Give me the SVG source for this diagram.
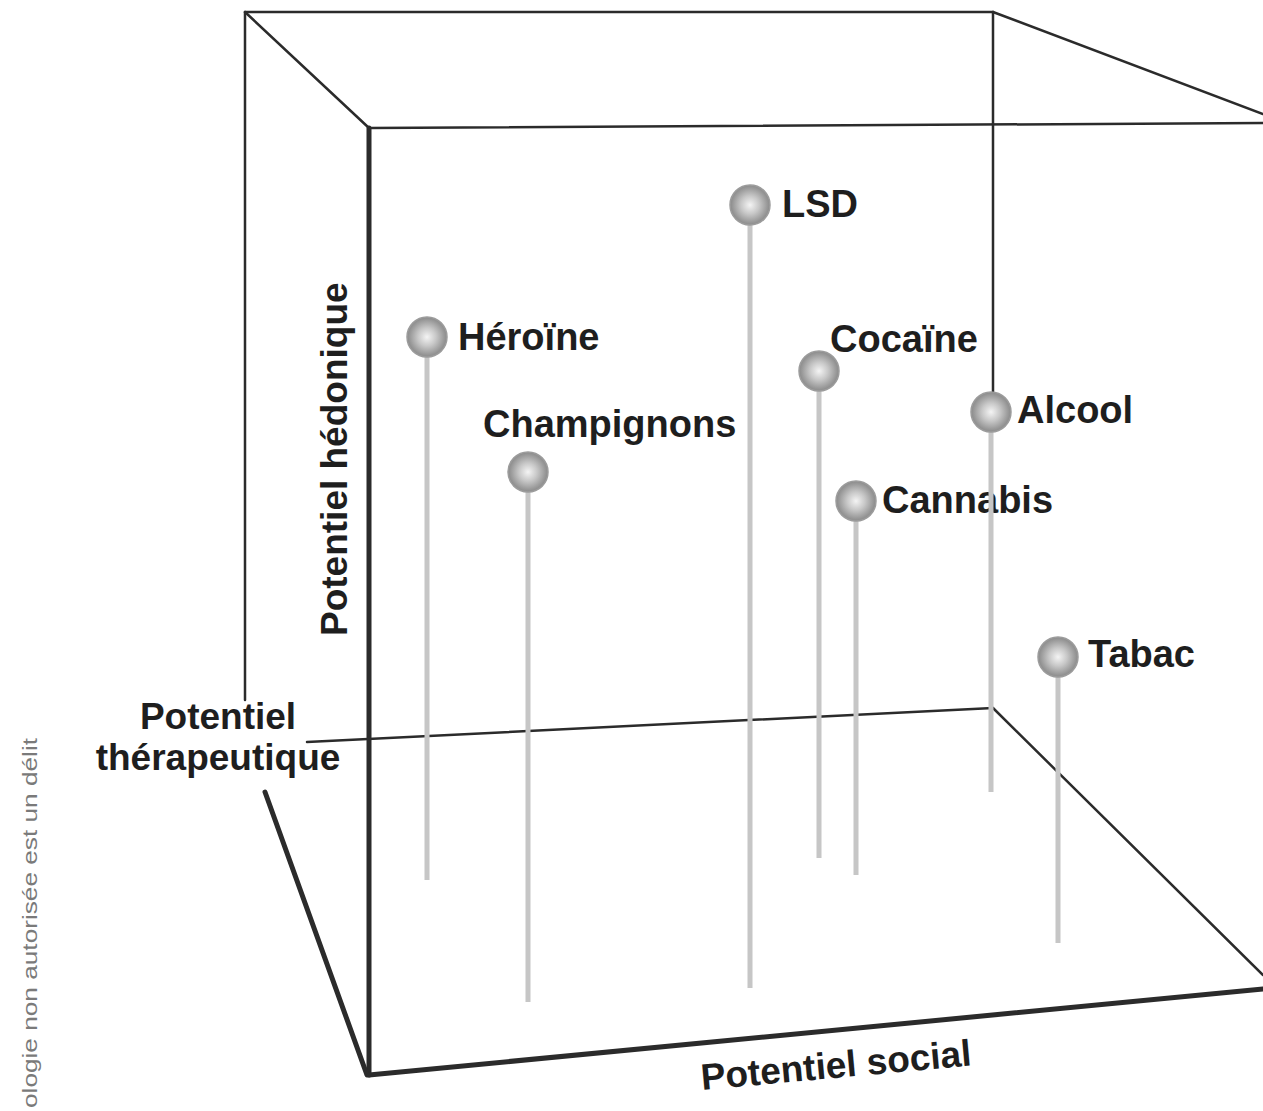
<svg xmlns="http://www.w3.org/2000/svg" width="1263" height="1111" viewBox="0 0 1263 1111">
<defs>
<radialGradient id="ball" cx="50%" cy="50%" r="50%">
<stop offset="0" stop-color="#f4f4f4"/>
<stop offset="0.45" stop-color="#c8c8c8"/>
<stop offset="0.85" stop-color="#9a9a9a"/>
<stop offset="1" stop-color="#8a8a8a"/>
</radialGradient>
</defs>
<style>
.edge{stroke:#2b2b2b;stroke-width:2.5;fill:none;stroke-linecap:round}
.thick{stroke:#2b2b2b;stroke-width:5;fill:none;stroke-linecap:round}
.stem{stroke:#c6c6c6;stroke-width:5;fill:none}
.ball{fill:url(#ball);stroke:#9c9c9c;stroke-width:1.5}
.lbl{font-family:"Liberation Sans",Arial,sans-serif;font-weight:bold;font-size:38px;fill:#1e1e1e}
.axis{font-family:"Liberation Sans",Arial,sans-serif;font-weight:bold;font-size:37px;fill:#1e1e1e}
.note{font-family:"Liberation Sans",Arial,sans-serif;font-size:20px;fill:#7a7a7a}
</style>
<rect width="1263" height="1111" fill="#ffffff"/>
<g id="connectors">
<line class="edge" x1="245" y1="12" x2="993" y2="12"/>
<line class="edge" x1="245" y1="12" x2="245" y2="700"/>
<line class="edge" x1="245" y1="12" x2="369" y2="128"/>
<line class="edge" x1="993" y1="12" x2="1263" y2="114"/>
<line class="edge" x1="369" y1="128" x2="1263" y2="123"/>
<line class="edge" x1="993" y1="12" x2="993" y2="393"/>
<line class="edge" x1="307" y1="742" x2="993" y2="708"/>
<line class="edge" x1="993" y1="708" x2="1263" y2="975"/>
<line class="thick" x1="369" y1="128" x2="369" y2="1075"/>
<line class="thick" x1="265" y1="792" x2="367" y2="1075"/>
<line class="thick" x1="369" y1="1075" x2="1263" y2="989"/>
</g>
<g id="heroine">
<line class="stem" x1="427" y1="355" x2="427" y2="880"/>
<circle class="ball" cx="427" cy="337" r="20"/>
<text class="lbl" x="458" y="350">Héroïne</text>
</g>
<g id="champignons">
<line class="stem" x1="528" y1="490" x2="528" y2="1002"/>
<circle class="ball" cx="528" cy="472" r="20"/>
<text class="lbl" x="483" y="437">Champignons</text>
</g>
<g id="lsd">
<line class="stem" x1="750" y1="224" x2="750" y2="988"/>
<circle class="ball" cx="750" cy="205" r="20"/>
<text class="lbl" x="782" y="217">LSD</text>
</g>
<g id="cocaine">
<line class="stem" x1="819" y1="389" x2="819" y2="858"/>
<circle class="ball" cx="819" cy="371" r="20"/>
<text class="lbl" x="830" y="352">Cocaïne</text>
</g>
<g id="cannabis">
<line class="stem" x1="856" y1="519" x2="856" y2="875"/>
<circle class="ball" cx="856" cy="501" r="20"/>
<text class="lbl" x="882" y="513">Cannabis</text>
</g>
<g id="alcool">
<line class="stem" x1="991" y1="430" x2="991" y2="792"/>
<circle class="ball" cx="991" cy="412" r="20"/>
<text class="lbl" x="1017" y="423">Alcool</text>
</g>
<g id="tabac">
<line class="stem" x1="1058" y1="676" x2="1058" y2="943"/>
<circle class="ball" cx="1058" cy="657" r="20"/>
<text class="lbl" x="1088" y="667">Tabac</text>
</g>
<g id="axis-labels">
<text class="axis" transform="translate(347,636) rotate(-90)">Potentiel hédonique</text>
<text class="axis" x="218" y="729" text-anchor="middle">Potentiel</text>
<text class="axis" x="218" y="770" text-anchor="middle">thérapeutique</text>
<text class="axis" transform="translate(702,1090) rotate(-5.2)">Potentiel social</text>
</g>
<text class="note" transform="translate(37,1108) rotate(-90)" textLength="370" lengthAdjust="spacingAndGlyphs">ologie non autorisée est un délit</text>
</svg>
